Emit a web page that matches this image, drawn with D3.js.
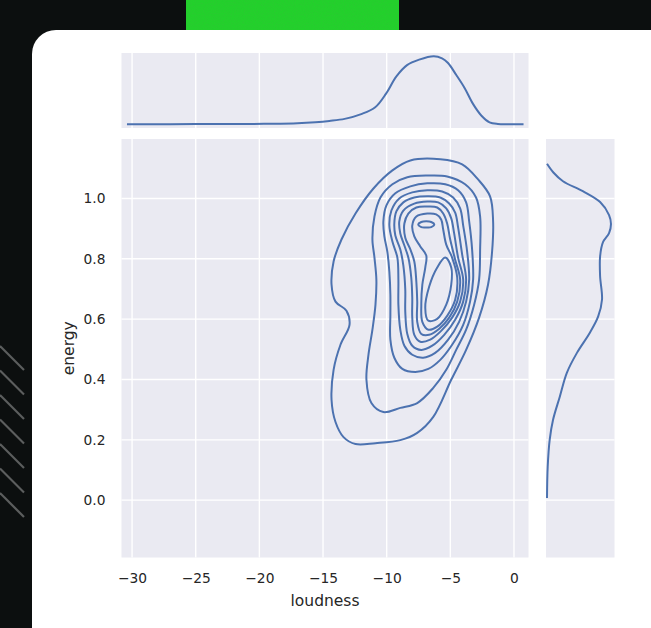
<!DOCTYPE html>
<html><head><meta charset="utf-8">
<script src="https://cdn.jsdelivr.net/npm/d3@7"></script>
<style>html,body{margin:0;padding:0;background:#0c0f0f;} svg{display:block}</style>
</head><body>
<svg id="c" width="651" height="628"></svg>
<script>
// ---------- data ----------
const xTicks = [-30, -25, -20, -15, -10, -5, 0];
const yTicks = [0.0, 0.2, 0.4, 0.6, 0.8, 1.0];
const xLabel = "loudness";
const yLabel = "energy";

// marginal KDE of loudness
const loudnessGrid = [-30.4,-27,-24,-21,-19,-17,-15.6,-14.5,-13.3,-12.0,-10.9,-10.05,-9.25,-8.4,-7.45,-6.3,-5.65,-5.18,-4.52,-3.87,-3.22,-2.57,-1.92,-1.26,-0.5,0.75];
const loudnessDensity = [0,0.0003,0.0005,0.0008,0.001,0.002,0.004,0.0065,0.0104,0.0195,0.0325,0.0585,0.091,0.113,0.1235,0.13,0.126,0.117,0.0936,0.0689,0.039,0.0169,0.0039,0.00065,0.0001,0];

// marginal KDE of energy
const energyGrid = [0.007,0.111,0.200,0.266,0.343,0.422,0.489,0.555,0.609,0.665,0.742,0.808,0.855,0.885,0.915,0.945,0.988,1.024,1.057,1.086,1.115];
const energyDensity = [0,0.023,0.088,0.197,0.42,0.651,0.987,1.407,1.68,1.806,1.743,1.743,1.838,2.037,2.1,2.037,1.743,1.176,0.525,0.21,0];

// joint KDE iso-lines, [loudness, energy]
const contourLevel1 = [[-8.14,1.126],[-5.79,1.130],[-4.07,1.113],[-2.82,1.063],[-1.88,1.007],[-1.64,0.924],[-1.72,0.824],[-2.04,0.714],[-2.74,0.605],[-3.76,0.498],[-4.93,0.399],[-6.34,0.276],[-7.60,0.223],[-8.93,0.199],[-10.88,0.189],[-12.45,0.186],[-13.39,0.209],[-14.02,0.259],[-14.33,0.332],[-14.17,0.432],[-13.63,0.515],[-12.92,0.581],[-13.16,0.628],[-14.02,0.658],[-14.33,0.714],[-14.17,0.791],[-13.55,0.864],[-12.45,0.950],[-11.04,1.033],[-9.55,1.093]];
const contourLevel2 = [[-6.81,1.076],[-5.25,1.073],[-3.84,1.047],[-2.98,1.003],[-2.66,0.940],[-2.66,0.831],[-2.74,0.731],[-3.13,0.648],[-3.76,0.565],[-4.54,0.498],[-5.32,0.432],[-6.34,0.372],[-7.60,0.322],[-8.93,0.306],[-10.26,0.292],[-11.20,0.322],[-11.59,0.399],[-11.43,0.482],[-11.12,0.565],[-10.88,0.648],[-10.81,0.731],[-10.96,0.804],[-11.12,0.864],[-10.96,0.940],[-10.49,1.003],[-9.55,1.047],[-8.38,1.070]];
const contourLevel3 = [[-6.81,1.050],[-5.40,1.047],[-4.39,1.027],[-3.76,0.987],[-3.52,0.924],[-3.29,0.831],[-3.21,0.731],[-3.45,0.658],[-3.99,0.581],[-4.86,0.515],[-5.79,0.465],[-6.73,0.435],[-7.75,0.425],[-8.77,0.435],[-9.40,0.472],[-9.71,0.532],[-9.71,0.615],[-9.71,0.681],[-9.79,0.757],[-9.95,0.824],[-10.18,0.874],[-10.26,0.924],[-10.02,0.977],[-9.32,1.017],[-8.14,1.040]];
const contourLevel4 = [[-6.81,1.027],[-5.64,1.023],[-4.78,1.003],[-4.23,0.967],[-3.99,0.910],[-3.68,0.824],[-3.52,0.731],[-3.76,0.658],[-4.31,0.591],[-5.17,0.532],[-6.19,0.488],[-7.13,0.472],[-7.99,0.482],[-8.61,0.512],[-8.93,0.565],[-9.08,0.648],[-9.08,0.731],[-9.16,0.804],[-9.55,0.857],[-9.79,0.910],[-9.63,0.960],[-9.01,1.000],[-7.99,1.020]];
const contourLevel5 = [[-6.81,1.007],[-5.79,1.003],[-5.09,0.983],[-4.62,0.953],[-4.39,0.904],[-4.07,0.814],[-3.76,0.731],[-3.99,0.658],[-4.62,0.598],[-5.48,0.548],[-6.42,0.512],[-7.28,0.498],[-7.99,0.512],[-8.38,0.551],[-8.54,0.625],[-8.54,0.698],[-8.69,0.777],[-8.93,0.831],[-9.32,0.877],[-9.40,0.917],[-9.24,0.957],[-8.69,0.987],[-7.83,1.003]];
const contourLevel6 = [[-6.81,0.990],[-5.95,0.987],[-5.32,0.967],[-4.93,0.934],[-4.70,0.884],[-4.39,0.804],[-3.99,0.731],[-4.23,0.658],[-4.86,0.605],[-5.72,0.561],[-6.58,0.532],[-7.36,0.525],[-7.83,0.548],[-7.99,0.605],[-7.99,0.671],[-8.07,0.738],[-8.30,0.804],[-8.61,0.844],[-8.93,0.884],[-9.01,0.924],[-8.69,0.960],[-7.83,0.983]];
const contourLevel7 = [[-6.81,0.973],[-6.03,0.970],[-5.56,0.950],[-5.25,0.917],[-5.01,0.864],[-4.62,0.797],[-4.23,0.731],[-4.46,0.658],[-5.09,0.605],[-5.87,0.568],[-6.66,0.548],[-7.28,0.551],[-7.60,0.591],[-7.60,0.658],[-7.67,0.724],[-7.83,0.791],[-8.14,0.831],[-8.54,0.870],[-8.61,0.917],[-8.30,0.950],[-7.67,0.970]];
const contourLevel8 = [[-6.81,0.950],[-6.11,0.947],[-5.72,0.930],[-5.56,0.897],[-5.32,0.847],[-4.86,0.804],[-4.46,0.738],[-4.62,0.664],[-5.25,0.611],[-6.03,0.575],[-6.73,0.565],[-7.20,0.591],[-7.28,0.648],[-7.20,0.714],[-6.97,0.771],[-6.89,0.811],[-7.36,0.841],[-7.83,0.874],[-7.99,0.910],[-7.67,0.940]];
const contourLevel9a = [[-7.52,0.914],[-7.28,0.922],[-6.89,0.924],[-6.50,0.922],[-6.26,0.914],[-6.50,0.905],[-6.89,0.904],[-7.28,0.905]];
const contourLevel9b = [[-5.40,0.804],[-4.93,0.771],[-4.93,0.714],[-5.32,0.648],[-6.03,0.601],[-6.73,0.595],[-6.97,0.638],[-6.66,0.708],[-6.03,0.771]];
const contourLevels = [contourLevel1, contourLevel2, contourLevel3, contourLevel4, contourLevel5, contourLevel6, contourLevel7, contourLevel8, contourLevel9a, contourLevel9b];

// ---------- layout ----------
const svg = d3.select("#c");
const W = 651, H = 628;
const mainP = {x0: 121.5, x1: 528.5, y0: 139, y1: 557.5};
const topP = {x0: 121.5, x1: 528.5, y0: 53, y1: 128};
const rightP = {x0: 546, x1: 614.5, y0: 139, y1: 557.5};
const blue = "#4c72b0", panelBg = "#eaeaf2", txt = "#262626";
const font = "'DejaVu Sans', sans-serif";

// ---------- background decoration ----------
const defs = svg.append("defs");
const flt = defs.append("filter").attr("id", "grain").attr("x", 0).attr("y", 0).attr("width", "100%").attr("height", "100%");
flt.append("feTurbulence").attr("type", "fractalNoise").attr("baseFrequency", 0.9).attr("numOctaves", 2).attr("seed", 4).attr("result", "t");
flt.append("feColorMatrix").attr("in", "t").attr("type", "matrix")
  .attr("values", "0 0 0 0 0.05  0 0 0 0 0.45  0 0 0 0 0.05  0 0 0 -1.6 1.0");

svg.append("rect").attr("width", W).attr("height", H).attr("fill", "#0c0f0f");
svg.append("rect").attr("x", 186).attr("y", 0).attr("width", 213).attr("height", 32).attr("fill", "#22d12b");
svg.append("rect").attr("x", 186).attr("y", 0).attr("width", 213).attr("height", 32).attr("filter", "url(#grain)").attr("opacity", 0.35);
const hatch = d3.range(7);
svg.append("g").selectAll("line").data(hatch).join("line")
  .attr("x1", 0).attr("x2", 24)
  .attr("y1", i => 346 + i * 24.5).attr("y2", i => 370 + i * 24.5)
  .attr("stroke", "#5c5e5e").attr("stroke-width", 2.2);
svg.append("path").attr("d", `M32,${H} L32,54 A24,24 0 0 1 56,30 L${W},30 L${W},${H} Z`).attr("fill", "#ffffff");

// ---------- scales ----------
const x = d3.scaleLinear().domain([-30.83, 1.14]).range([mainP.x0, mainP.x1]);
const y = d3.scaleLinear().domain([-0.19, 1.197]).range([mainP.y1, mainP.y0]);
const Mx = d3.max(loudnessDensity), My = d3.max(energyDensity);
const topY = d3.scaleLinear().domain([-0.054 * Mx, 1.047 * Mx]).range([topP.y1, topP.y0]);
const rightX = d3.scaleLinear().domain([-0.0156 * My, 1.055 * My]).range([rightP.x0, rightP.x1]);

// ---------- panels ----------
function panel(p) {
  svg.append("rect").attr("x", p.x0).attr("y", p.y0).attr("width", p.x1 - p.x0).attr("height", p.y1 - p.y0).attr("fill", panelBg);
}
panel(topP); panel(mainP); panel(rightP);

const grid = svg.append("g").attr("stroke", "#ffffff").attr("stroke-width", 1.4);
grid.selectAll(".vm").data(xTicks).join("line").attr("class", "vm").attr("x1", d => x(d)).attr("x2", d => x(d)).attr("y1", mainP.y0).attr("y2", mainP.y1);
grid.selectAll(".vt").data(xTicks).join("line").attr("class", "vt").attr("x1", d => x(d)).attr("x2", d => x(d)).attr("y1", topP.y0).attr("y2", topP.y1);
grid.selectAll(".hm").data(yTicks).join("line").attr("class", "hm").attr("y1", d => y(d)).attr("y2", d => y(d)).attr("x1", mainP.x0).attr("x2", mainP.x1);
grid.selectAll(".hr").data(yTicks).join("line").attr("class", "hr").attr("y1", d => y(d)).attr("y2", d => y(d)).attr("x1", rightP.x0).attr("x2", rightP.x1);

// ---------- axes ----------
const fmtX = d => d < 0 ? "\u2212" + Math.abs(d) : String(d);
const xAxis = d3.axisBottom(x).tickValues(xTicks).tickFormat(fmtX).tickSize(0).tickPadding(16);
const gx = svg.append("g").attr("transform", `translate(0,${mainP.y1})`).call(xAxis);
gx.select(".domain").remove();
gx.selectAll("text").attr("font-family", font).attr("font-size", 13.8).attr("fill", txt);

const yAxis = d3.axisLeft(y).tickValues(yTicks).tickFormat(d3.format(".1f")).tickSize(0).tickPadding(16);
const gy = svg.append("g").attr("transform", `translate(${mainP.x0},0)`).call(yAxis);
gy.select(".domain").remove();
gy.selectAll("text").attr("font-family", font).attr("font-size", 13.8).attr("fill", txt);

svg.append("text").attr("x", (mainP.x0 + mainP.x1) / 2).attr("y", 606).attr("text-anchor", "middle")
  .attr("font-family", font).attr("font-size", 15.5).attr("fill", txt).text(xLabel);
svg.append("text").attr("transform", `translate(74,${(mainP.y0 + mainP.y1) / 2}) rotate(-90)`).attr("text-anchor", "middle")
  .attr("font-family", font).attr("font-size", 15.5).attr("fill", txt).text(yLabel);

// ---------- marks ----------
const contourLine = d3.line().x(d => x(d[0])).y(d => y(d[1])).curve(d3.curveCatmullRomClosed.alpha(0.5));
svg.append("g").selectAll("path").data(contourLevels).join("path")
  .attr("d", contourLine).attr("fill", "none").attr("stroke", blue).attr("stroke-width", 2).attr("stroke-linejoin", "round");

const topLine = d3.line().x((d, i) => x(loudnessGrid[i])).y(d => topY(d)).curve(d3.curveCatmullRom.alpha(0.5));
svg.append("path").datum(loudnessDensity).attr("d", topLine).attr("fill", "none").attr("stroke", blue).attr("stroke-width", 2);

const rightLine = d3.line().x(d => rightX(d)).y((d, i) => y(energyGrid[i])).curve(d3.curveCatmullRom.alpha(0.5));
svg.append("path").datum(energyDensity).attr("d", rightLine).attr("fill", "none").attr("stroke", blue).attr("stroke-width", 2);
</script>
</body></html>
